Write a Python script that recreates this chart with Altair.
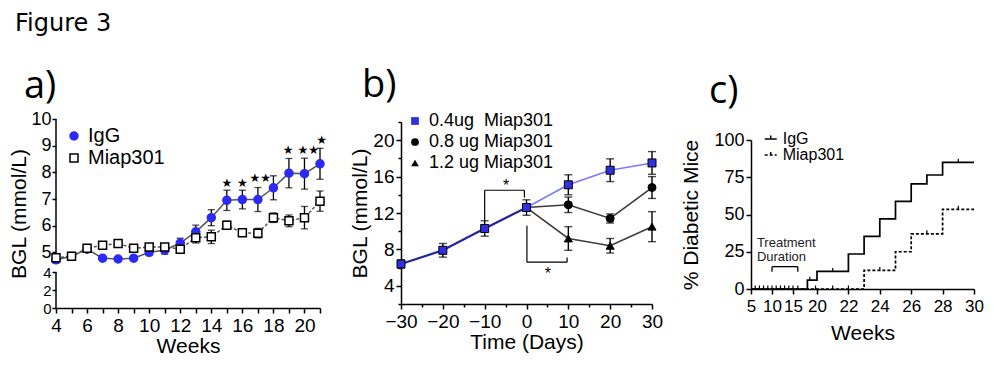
import altair as alt
import pandas as pd

FONT = "Liberation Sans"
TFONT = "Open Sans"

# ---------------- text ----------------
fig_title = ["Figure 3"]
panel_labels = ["a)", "b)", "c)"]

# ---------------- panel a ----------------
weeks_a = list(range(4, 22))
igg_a = [4.72, 4.85, 5.12, 4.78, 4.75, 4.78, 5.0, 5.08, 5.35, 5.77, 6.3, 6.95, 6.98, 6.98, 7.42, 7.97, 7.95, 8.32]
igg_err = [0.12, 0.1, 0.1, 0.08, 0.08, 0.08, 0.12, 0.15, 0.18, 0.25, 0.3, 0.38, 0.35, 0.45, 0.45, 0.55, 0.58, 0.58]
miap_a = [4.8, 4.85, 5.15, 5.27, 5.33, 5.15, 5.2, 5.2, 5.12, 5.55, 5.58, 6.02, 5.73, 5.72, 6.3, 6.18, 6.3, 6.92]
miap_err = [0.12, 0.1, 0.1, 0.1, 0.08, 0.1, 0.1, 0.1, 0.1, 0.2, 0.25, 0.15, 0.12, 0.18, 0.18, 0.22, 0.42, 0.38]
groups_a = ["IgG", "Miap301"]
star_x_a = [15, 16, 17.15, 18.95, 20.25, 21.1]
star_y_a = [7.6, 7.6, 7.8, 8.85, 8.85, 9.2]
star_t_a = ["★", "★", "★★", "★", "★★", "★"]
axis_seg_lo_a = [0, 4.6]
axis_seg_hi_a = [4, 10]
yticks_a = [0, 2, 4, 5, 6, 7, 8, 9, 10]

# ---------------- panel b ----------------
series_b = ["0.4ug\u00a0 Miap301", "0.8 ug Miap301", "1.2 ug Miap301"]
days_pre = [-30, -20, -10, 0]
pre_b = [6.4, 7.9, 10.3, 12.6]
pre_err = [0.45, 0.75, 0.85, 0.85]
days_post = [10, 20, 30]
b04 = [15.1, 16.7, 17.5]
b04_err = [1.1, 1.25, 1.25]
b08 = [12.9, 11.4, 14.8]
b08_err = [0.85, 0.5, 1.2]
b12 = [9.2, 8.4, 10.5]
b12_err = [1.3, 0.8, 1.65]
br_x = [-10, -10, -0.5, 0.1, 0.1, 9.7]
br_y = [11.1, 14.5, 14.5, 10.6, 6.6, 6.6]
br_x2 = [-10, -0.5, -0.5, 0.1, 9.7, 9.7]
br_y2 = [14.5, 14.5, 13.7, 6.6, 6.6, 7.1]
star_x_b = [-4.9, 5.1]
star_y_b = [15.3, 5.6]

# ---------------- panel c ----------------
igg_c_x = [5, 18, 20, 22, 23, 24, 25, 26, 27, 28, 30]
igg_c_y = [0, 5.9, 11.8, 23.5, 35.3, 47.1, 58.8, 70.6, 76.5, 85, 85]
miap_c_x = [5, 23, 25, 26, 28, 30]
miap_c_y = [0, 12.5, 25, 37, 53.5, 53.5]
cens_igg_x = [6, 7, 8, 9, 10, 11, 12, 13, 14, 15, 16, 18.5, 21, 29]
cens_igg_y = [0, 0, 0, 0, 0, 0, 0, 0, 0, 0, 0, 5.9, 11.8, 85]
cens_miap_x = [19.7, 21, 22, 24, 27, 29]
cens_miap_y = [0, 0, 0, 12.5, 37, 53.5]
treat_x = [10, 10, 16]
treat_y = [11.6, 15, 15]
treat_x2 = [10, 16, 16]
treat_y2 = [15, 15, 11.6]
treat_text = ["Treatment", "Duration"]
treat_text_x = [6.4, 6.4]
treat_text_y = [31, 21.5]


def label_layer(text, x, y, size, font=TFONT):
    return alt.Chart(pd.DataFrame({"t": [text]})).mark_text(
        align="left", baseline="alphabetic", font=font, fontSize=size, color="black").encode(
        text="t:N", x=alt.value(x), y=alt.value(y))


# ================= panel a =================
sx_a = alt.Scale(domain=[4, 21], range=[0, 264], nice=False, zero=False)
sy_a = alt.Scale(domain=[0, 4, 4.6, 10], range=[189, 153, 144, 0], nice=False, zero=False)
ax_xa = alt.Axis(values=weeks_a, labelExpr="datum.value % 2 === 0 ? datum.label : ''",
                 tickSize=5, labelPadding=3, labelFontSize=19, titleFontSize=21,
                 titlePadding=0, labelOverlap=False, labelFlush=False)
ax_ya = alt.Axis(values=yticks_a, domain=False, tickSize=4, labelPadding=1,
                 labelFontSize={"condition": {"test": "datum.value <= 4", "value": 15}, "value": 18},
                 titleFontSize=21, titlePadding=1, labelOverlap=False, labelFlush=False)

rows = []
for g, vals, errs in [("IgG", igg_a, igg_err), ("Miap301", miap_a, miap_err)]:
    for w, v, e in zip(weeks_a, vals, errs):
        rows.append({"week": w, "group": g, "value": v, "lo": v - e, "hi": v + e})
df_a = pd.DataFrame(rows)
caps_a = pd.concat([df_a.assign(cap=df_a["lo"]), df_a.assign(cap=df_a["hi"])])


def xa(f="week:Q"):
    return alt.X(f, scale=sx_a, axis=ax_xa, title="Weeks")


def ya(f):
    return alt.Y(f, scale=sy_a, axis=ax_ya, title="BGL (mmol/L)")


line_igg_a = alt.Chart(df_a).transform_filter(alt.datum.group == "IgG").mark_line(
    color="#555555", strokeWidth=1.5).encode(x=xa(), y=ya("value:Q"))
line_miap_a = alt.Chart(df_a).transform_filter(alt.datum.group == "Miap301").mark_line(
    color="#555555", strokeWidth=1.5, strokeDash=[3, 2]).encode(x=xa(), y=ya("value:Q"))
seg_a = alt.Chart(pd.DataFrame({"lo": axis_seg_lo_a, "hi": axis_seg_hi_a})).mark_rule(
    color="black", strokeWidth=1.5).encode(x=alt.value(0), y=ya("lo:Q"), y2="hi:Q")
err_a = alt.Chart(df_a).mark_rule(color="black", strokeWidth=1.3).encode(x=xa(), y=ya("lo:Q"), y2="hi:Q")
cap_a = alt.Chart(caps_a).mark_tick(orient="horizontal", size=7, thickness=1.3, color="black").encode(
    x=xa(), y=ya("cap:Q"))
pts_a = alt.Chart(df_a).mark_point(filled=True, size=64, strokeWidth=1.5, opacity=1).encode(
    x=xa(), y=ya("value:Q"),
    shape=alt.Shape("group:N", scale=alt.Scale(domain=groups_a, range=["circle", "square"]),
                    legend=alt.Legend(title=None, orient="none", legendX=8, legendY=7, labelFontSize=20,
                                      labelFont=FONT, symbolSize=64, rowPadding=2, labelOffset=4,
                                      padding=0, symbolStrokeWidth=1.5, labelColor="black")),
    fill=alt.Fill("group:N", scale=alt.Scale(domain=groups_a, range=["#2b2bf5", "white"])),
    stroke=alt.Stroke("group:N", scale=alt.Scale(domain=groups_a, range=["#2b2bf5", "black"])),
)
stars_a = alt.Chart(pd.DataFrame({"x": star_x_a, "y": star_y_a, "t": star_t_a})).mark_text(
    font="DejaVu Sans", fontSize=12, baseline="middle", color="black").encode(
    x=xa("x:Q"), y=ya("y:Q"), text="t:N")
title_fig = label_layer(fig_title[0], -41, -88, 24, font="DejaVu Sans")
lab_a = label_layer(panel_labels[0], -32, -21, 38)
anchor = alt.Chart(pd.DataFrame({"t": [0]})).mark_rule(opacity=0, strokeWidth=1).encode(
    x=alt.value(-45.5), y=alt.value(-110.5), y2=alt.value(-100))

panel_a = alt.layer(line_igg_a, line_miap_a, seg_a, err_a, cap_a, pts_a, stars_a,
                    anchor, title_fig, lab_a).properties(width=264, height=189)

# ================= panel b =================
sx_b = alt.Scale(domain=[-30, 30], range=[0, 251], nice=False, zero=False)
sy_b = alt.Scale(domain=[2, 22], range=[185, 3], nice=False, zero=False)
ax_xb = alt.Axis(values=list(range(-30, 31, 5)),
                 labelExpr="datum.value % 10 === 0 ? datum.label : ''",
                 tickSize={"condition": {"test": "datum.value % 10 === 0", "value": 5}, "value": 3},
                 labelPadding=3, labelFontSize=19, titleFontSize=21, titlePadding=0,
                 labelOverlap=False, labelFlush=False)
ax_yb = alt.Axis(values=list(range(2, 23, 2)),
                 labelExpr="datum.value % 4 === 0 ? datum.label : ''",
                 tickSize={"condition": {"test": "datum.value % 4 === 0", "value": 5}, "value": 3},
                 labelPadding=2, labelFontSize=19, titleFontSize=21, titlePadding=2,
                 labelOverlap=False, labelFlush=False)

pts = []
for d, v, e in zip(days_pre, pre_b, pre_err):
    pts.append({"day": d, "series": series_b[0], "value": v, "lo": v - e, "hi": v + e})
for s, vals, errs in [(series_b[0], b04, b04_err), (series_b[1], b08, b08_err), (series_b[2], b12, b12_err)]:
    for d, v, e in zip(days_post, vals, errs):
        pts.append({"day": d, "series": s, "value": v, "lo": v - e, "hi": v + e})
df_b = pd.DataFrame(pts)
caps_b = pd.concat([df_b.assign(cap=df_b["lo"]), df_b.assign(cap=df_b["hi"])])


def xb(f="day:Q"):
    return alt.X(f, scale=sx_b, axis=ax_xb, title="Time (Days)")


def yb(f):
    return alt.Y(f, scale=sy_b, axis=ax_yb, title="BGL (mmol/L)")


pre_line_b = alt.Chart(pd.DataFrame({"day": days_pre, "value": pre_b})).mark_line(
    color="#23239a", strokeWidth=2.2).encode(x=xb(), y=yb("value:Q"))
post_lines_b = []
for vals, col in [(b04, "#7b7bf5"), (b08, "#3c3c3c"), (b12, "#3c3c3c")]:
    post_lines_b.append(alt.Chart(pd.DataFrame({"day": [0] + days_post, "value": [pre_b[-1]] + vals})).mark_line(
        color=col, strokeWidth=1.6).encode(x=xb(), y=yb("value:Q")))
err_b = alt.Chart(df_b).mark_rule(color="black", strokeWidth=1.4).encode(x=xb(), y=yb("lo:Q"), y2="hi:Q")
cap_b = alt.Chart(caps_b).mark_tick(orient="horizontal", size=8, thickness=1.4, color="black").encode(
    x=xb(), y=yb("cap:Q"))
pts_b = alt.Chart(df_b).mark_point(filled=True, size=64, strokeWidth=1, opacity=1, stroke="black").encode(
    x=xb(), y=yb("value:Q"),
    shape=alt.Shape("series:N", scale=alt.Scale(domain=series_b, range=["square", "circle", "triangle-up"]),
                    legend=alt.Legend(title=None, orient="none", legendX=5, legendY=-7, labelFontSize=18,
                                      labelFont=FONT, symbolSize=60, rowPadding=3, labelOffset=5,
                                      padding=0, symbolStrokeColor="black", symbolStrokeWidth=1,
                                      labelColor="black")),
    fill=alt.Fill("series:N", scale=alt.Scale(domain=series_b, range=["#3030e0", "black", "black"])),
)
br_b = alt.Chart(pd.DataFrame({"x": br_x, "y": br_y, "x2": br_x2, "y2": br_y2})).mark_rule(
    color="black", strokeWidth=1.2).encode(x=xb("x:Q"), y=yb("y:Q"), x2="x2:Q", y2="y2:Q")
stars_b = alt.Chart(pd.DataFrame({"x": star_x_b, "y": star_y_b, "t": ["*", "*"]})).mark_text(
    font=FONT, fontSize=16, baseline="middle", dy=3, color="black").encode(
    x=xb("x:Q"), y=yb("y:Q"), text="t:N")
lab_b = label_layer(panel_labels[1], -39, -22, 38)

panel_b = alt.layer(pre_line_b, *post_lines_b, br_b, err_b, cap_b, pts_b, stars_b, lab_b).properties(
    width=269, height=185)

# ================= panel c =================
sx_c = alt.Scale(domain=[5, 15, 20, 30], range=[0, 42, 66, 223], nice=False, zero=False)
sy_c = alt.Scale(domain=[0, 100], range=[170, 21], nice=False, zero=False)
groups_c = ["IgG", "Miap301"]
ax_xc = alt.Axis(values=[5, 10, 15, 20, 22, 24, 26, 28, 30], tickSize=5, labelPadding=4,
                 labelFontSize=17, titleFontSize=21, titlePadding=8,
                 labelOverlap=False, labelFlush=False)
ax_yc = alt.Axis(values=[0, 25, 50, 75, 100], tickSize=5, labelPadding=2,
                 labelFontSize=18, titleFontSize=21, titlePadding=12,
                 labelOverlap=False, labelFlush=False)

df_c = pd.concat([
    pd.DataFrame({"week": miap_c_x, "pct": miap_c_y, "group": "Miap301"}),
    pd.DataFrame({"week": igg_c_x, "pct": igg_c_y, "group": "IgG"}),
])
df_cens = pd.concat([
    pd.DataFrame({"week": cens_igg_x, "pct": cens_igg_y}),
    pd.DataFrame({"week": cens_miap_x, "pct": cens_miap_y}),
])


def xc(f="week:Q"):
    return alt.X(f, scale=sx_c, axis=ax_xc, title="Weeks")


def yc(f):
    return alt.Y(f, scale=sy_c, axis=ax_yc, title="% Diabetic Mice")


line_c = alt.Chart(df_c).mark_line(interpolate="step-after", color="black", strokeWidth=1.7).encode(
    x=xc(), y=yc("pct:Q"), order=alt.Order("week:Q"),
    strokeDash=alt.StrokeDash("group:N", scale=alt.Scale(domain=groups_c, range=[[1, 0], [3, 2]]),
                              sort=groups_c,
                              legend=alt.Legend(title=None, orient="none", legendX=11.7, legendY=12,
                                                labelFontSize=16, labelFont=FONT, labelColor="black",
                                                symbolType="M-1,0L1,0M0,0L0,-0.6", symbolSize=144,
                                                symbolStrokeColor="black", symbolStrokeWidth=1.5,
                                                symbolFillColor="transparent",
                                                rowPadding=-1, labelOffset=4, padding=0)),
)
cens_c = alt.Chart(df_cens).mark_point(shape="M0,0L0,-1", size=49, stroke="black", strokeWidth=1.2,
                                       filled=False, opacity=1).encode(x=xc(), y=yc("pct:Q"))
treat_c = alt.Chart(pd.DataFrame({"x": treat_x, "y": treat_y, "x2": treat_x2, "y2": treat_y2})).mark_rule(
    color="black", strokeWidth=1.3).encode(x=xc("x:Q"), y=yc("y:Q"), x2="x2:Q", y2="y2:Q")
treat_t = alt.Chart(pd.DataFrame({"x": treat_text_x, "y": treat_text_y, "t": treat_text})).mark_text(
    align="left", baseline="middle", font=FONT, fontSize=13, color="#222222").encode(
    x=xc("x:Q"), y=yc("y:Q"), text="t:N")
lab_c = label_layer(panel_labels[2], -42, -16, 38)

panel_c = alt.layer(line_c, cens_c, treat_c, treat_t, lab_c).properties(width=224, height=170)

chart = alt.hconcat(panel_a, panel_b, panel_c, spacing=81, bounds="flush").resolve_scale(
    x="independent", y="independent", shape="independent", fill="independent",
    stroke="independent", strokeDash="independent",
).properties(padding=0).configure_view(strokeWidth=0).configure_axis(
    domainColor="black", tickColor="black", labelColor="black", titleColor="black",
    domainWidth=1.5, tickWidth=1.5, grid=False, labelFont=FONT, titleFont=FONT,
    titleFontWeight="normal", labelOverlap=False,
)

chart.save("out.html", embed_options={"renderer": "svg", "actions": False})
